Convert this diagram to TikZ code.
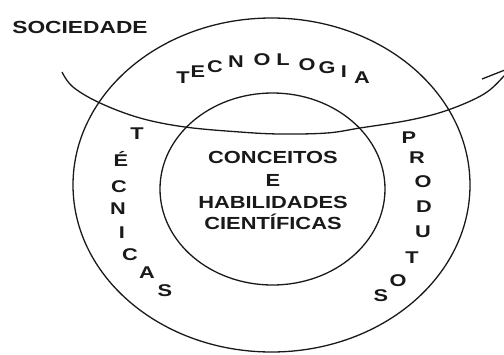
\documentclass[tikz,border=0pt]{standalone}
\usepackage{fontspec}
\setmainfont{Liberation Sans}
\begin{document}
\begin{tikzpicture}[x=1pt,y=-1pt,
  ln/.style={line width=1.3pt, draw=black!90},
  letter/.style={font=\bfseries\fontsize{17}{17}\selectfont, xscale=1.28, inner sep=0pt, anchor=base, text=black!90},
  ctext/.style={font=\bfseries\fontsize{17.5}{17.5}\selectfont, xscale=1.25, inner sep=0pt, anchor=base, text=black!90}]
\useasboundingbox (0,0) rectangle (504,354);
% ellipses
\draw[ln] (271.5,185) ellipse [x radius=198.5, y radius=167];
\draw[ln] (272.5,189) ellipse [x radius=112.5, y radius=96];
% curved arrow
\coordinate (cs) at (62,72);
\coordinate (ce) at (510,68);
\coordinate (cb) at (482,79);
\draw[ln] plot[smooth, tension=0.6] coordinates {(cs) (73,87) (100,103) (140,118) (185,127) (240,132) (280,134) (327,133) (360,128) (410,120) (448,110) (484,94) (504,76) (ce)};
\draw[ln] (cb) -- (ce);
% labels
\node[ctext, xscale=1.04] (soc) at (80,33) {SOCIEDADE};
\node[ctext] (c1) at (273,163) {CONCEITOS};
\node[ctext] (c2) at (273,186) {E};
\node[ctext] (c3) at (273,208) {HABILIDADES};
\node[ctext] (c4) at (273,229) {CIENTÍFICAS};
\foreach \t/\x/\y [count=\i] in {T/183/77, E/198/71, C/215/66, N/236/61, O/262/59, L/283/59, O/307/64, G/327/67, I/344/71, A/362/77}
  \node[letter] (tec\i) at (\x,\y+6) {\t};
\foreach \t/\x/\y [count=\i] in {T/137/133, É/121/160, C/119/186, N/118/208, I/122/232, C/130/254, A/147/272, S/165/290}
  \node[letter] (tcn\i) at (\x,\y+6) {\t};
\foreach \t/\x/\y [count=\i] in {P/409/137, R/417/157, O/423/181, D/424/206, U/423/231, T/412/257, O/398/280, S/381/295}
  \node[letter] (prd\i) at (\x,\y+6) {\t};
\end{tikzpicture}
\end{document}
